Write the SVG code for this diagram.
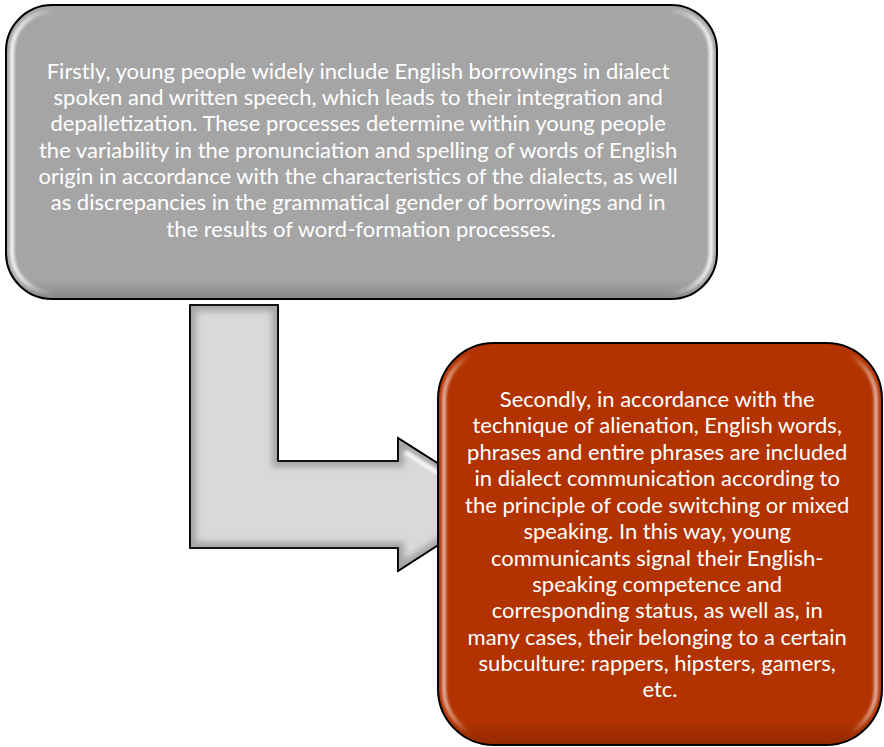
<svg xmlns="http://www.w3.org/2000/svg" width="884" height="747" viewBox="0 0 884 747">
  <style>
    .box-outline { stroke: #000; stroke-width: 2; }
    .label { font-family: Lato, "Open Sans", "Liberation Sans", sans-serif; font-size: 22px; fill: #ffffff; text-anchor: middle; }
    .arrow { fill: #d9d9d9; stroke: #000; stroke-width: 1.6; stroke-linejoin: miter; }
  </style>
  <defs>
    <!-- side highlights used for the glossy bevel on the boxes -->
    <linearGradient id="sheenH" x1="0" y1="0" x2="1" y2="0">
      <stop offset="0" stop-color="#fff" stop-opacity="0.95"/>
      <stop offset="0.06" stop-color="#fff" stop-opacity="0"/>
      <stop offset="0.94" stop-color="#fff" stop-opacity="0"/>
      <stop offset="1" stop-color="#fff" stop-opacity="0.95"/>
    </linearGradient>
    <linearGradient id="shadeV" x1="0" y1="0" x2="0" y2="1">
      <stop offset="0" stop-color="#000" stop-opacity="0"/>
      <stop offset="0.94" stop-color="#000" stop-opacity="0"/>
      <stop offset="1" stop-color="#000" stop-opacity="0.18"/>
    </linearGradient>
    <filter id="soft" x="-5%" y="-5%" width="110%" height="110%">
      <feGaussianBlur stdDeviation="1.6"/>
    </filter>
    <filter id="bevel" x="-5%" y="-5%" width="110%" height="110%">
      <feGaussianBlur stdDeviation="3"/>
    </filter>
    <clipPath id="arrowClip">
      <path d="M190,305 L278,305 L278,461 L398,461 L398,438 L502,504 L398,571 L398,548 L190,548 Z"/>
    </clipPath>
  </defs>

  <!-- connector: bent arrow from the first box to the second -->
  <g id="connectors">
    <path class="arrow" d="M190,305 L278,305 L278,461 L398,461 L398,438 L502,504 L398,571 L398,548 L190,548 Z"/>
    <g clip-path="url(#arrowClip)">
      <path d="M190,305 L278,305 L278,461 L398,461 L398,438 L502,504 L398,571 L398,548 L190,548 Z" fill="none" stroke="#7a7a7a" stroke-width="12" stroke-opacity="0.55" filter="url(#bevel)"/>
      <path d="M405,452 L438,473" stroke="#fff" stroke-width="4" stroke-opacity="0.9" filter="url(#soft)"/>
    </g>
    <path d="M190,305 L278,305 L278,461 L398,461 L398,438 L502,504 L398,571 L398,548 L190,548 Z" fill="none" stroke="#000" stroke-width="1.6"/>
  </g>

  <!-- first statement -->
  <g id="node-first">
    <rect class="box-outline" x="6" y="5" width="711" height="294" rx="46" ry="46" fill="#a5a5a5"/>
    <rect x="12" y="11" width="699" height="282" rx="41" ry="41" fill="none" stroke="url(#sheenH)" stroke-width="4" filter="url(#soft)"/>
    <rect x="7" y="6" width="709" height="292" rx="45" ry="45" fill="url(#shadeV)"/>
    <text class="label">
      <tspan x="361" y="79">Firstly, young people widely include English borrowings in dialect</tspan>
      <tspan x="361" y="105">spoken and written speech, which leads to their integration and</tspan>
      <tspan x="361" y="131">depalletization. These processes determine within young people</tspan>
      <tspan x="361" y="158">the variability in the pronunciation and spelling of words of English</tspan>
      <tspan x="361" y="184">origin in accordance with the characteristics of the dialects, as well</tspan>
      <tspan x="361" y="210">as discrepancies in the grammatical gender of borrowings and in</tspan>
      <tspan x="361" y="237">the results of word-formation processes.</tspan>
    </text>
  </g>

  <!-- second statement -->
  <g id="node-second">
    <rect class="box-outline" x="438" y="343" width="444" height="402" rx="56" ry="56" fill="#b33300"/>
    <rect x="444" y="349" width="432" height="390" rx="51" ry="51" fill="none" stroke="url(#sheenH)" stroke-width="4" stroke-opacity="0.7" filter="url(#soft)"/>
    <rect x="439" y="344" width="442" height="400" rx="55" ry="55" fill="url(#shadeV)"/>
    <text class="label">
      <tspan x="660" y="407">Secondly, in accordance with the</tspan>
      <tspan x="660" y="433">technique of alienation, English words,</tspan>
      <tspan x="660" y="460">phrases and entire phrases are included</tspan>
      <tspan x="660" y="486">in dialect communication according to</tspan>
      <tspan x="660" y="513">the principle of code switching or mixed</tspan>
      <tspan x="660" y="539">speaking. In this way, young</tspan>
      <tspan x="660" y="566">communicants signal their English-</tspan>
      <tspan x="660" y="592">speaking competence and</tspan>
      <tspan x="660" y="618">corresponding status, as well as, in</tspan>
      <tspan x="660" y="645">many cases, their belonging to a certain</tspan>
      <tspan x="660" y="671">subculture: rappers, hipsters, gamers,</tspan>
      <tspan x="660" y="697">etc.</tspan>
    </text>
  </g>
</svg>
